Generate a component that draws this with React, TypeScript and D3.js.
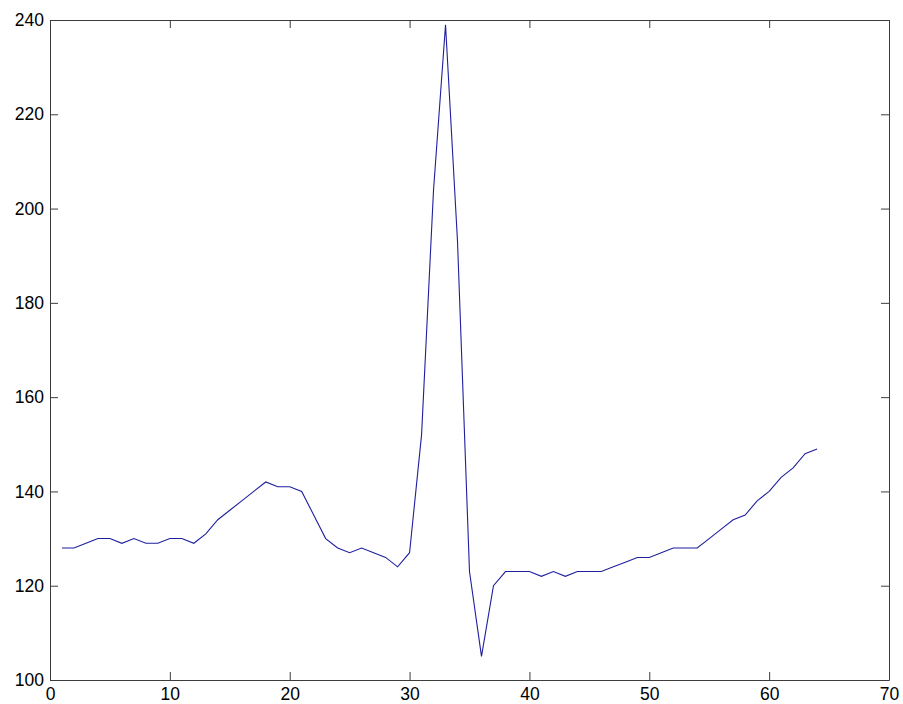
import React, { useRef, useEffect } from "react";
import { select, line, scaleLinear, axisBottom, axisLeft, axisTop, axisRight } from "d3";

// sample index 1..64
const samples: number[] = Array.from({ length: 64 }, (_, i) => i + 1);
const signal: number[] = [
  128, 128, 129, 130, 130, 129, 130, 129, 129, 130,
  130, 129, 131, 134, 136, 138, 140, 142, 141, 141,
  140, 135, 130, 128, 127, 128, 127, 126, 124, 127,
  152, 204, 239, 193, 123, 105, 120, 123, 123, 123,
  122, 123, 122, 123, 123, 123, 124, 125, 126, 126,
  127, 128, 128, 128, 130, 132, 134, 135, 138, 140,
  143, 145, 148, 149,
];
const xTicks = [0, 10, 20, 30, 40, 50, 60, 70];
const yTicks = [100, 120, 140, 160, 180, 200, 220, 240];

const W = 903;
const H = 704;
const margin = { top: 20, right: 14, bottom: 24, left: 50 };

function SignalChart() {
  const svgRef = useRef<SVGSVGElement>(null);

  useEffect(() => {
    const svg = select(svgRef.current);
    svg.selectAll("*").remove();

    const x = scaleLinear().domain([0, 70]).range([margin.left, W - margin.right]);
    const y = scaleLinear().domain([100, 240]).range([H - margin.bottom, margin.top]);

    const font = "Arial, 'Liberation Sans', Helvetica, sans-serif";
    const axisColor = "#3c3c3c";

    // box + inward ticks on all four sides
    const style = (g: any) => {
      g.select(".domain").attr("stroke", axisColor);
      g.selectAll(".tick line").attr("stroke", axisColor);
      g.selectAll(".tick text")
        .attr("fill", "#000")
        .style("font-family", font)
        .style("font-size", "17.5px");
    };

    svg
      .append("g")
      .attr("transform", `translate(0,${y(100)})`)
      .call(axisBottom(x).tickValues(xTicks).tickSizeInner(-8).tickSizeOuter(0).tickPadding(8).tickFormat((d: any) => `${d}`))
      .call(style);

    svg
      .append("g")
      .attr("transform", `translate(${x(0)},0)`)
      .call(axisLeft(y).tickValues(yTicks).tickSizeInner(-8).tickSizeOuter(0).tickPadding(6).tickFormat((d: any) => `${d}`))
      .call(style);

    svg
      .append("g")
      .attr("transform", `translate(0,${y(240)})`)
      .call(axisTop(x).tickValues(xTicks).tickSizeInner(-8).tickSizeOuter(0).tickFormat(() => ""))
      .call(style);

    svg
      .append("g")
      .attr("transform", `translate(${x(70)},0)`)
      .call(axisRight(y).tickValues(yTicks).tickSizeInner(-8).tickSizeOuter(0).tickFormat(() => ""))
      .call(style);

    const path = line<number>()
      .x((_, i) => x(samples[i]))
      .y((d) => y(d));

    svg
      .append("path")
      .datum(signal)
      .attr("d", path)
      .attr("fill", "none")
      .attr("stroke", "#1f1f9e")
      .attr("stroke-width", 1.1);
  }, []);

  return (
    <svg
      ref={svgRef}
      width={W}
      height={H}
      style={{ position: "absolute", left: 0, top: 0, background: "#fff" }}
    />
  );
}

export default function App() {
  return <SignalChart />;
}
